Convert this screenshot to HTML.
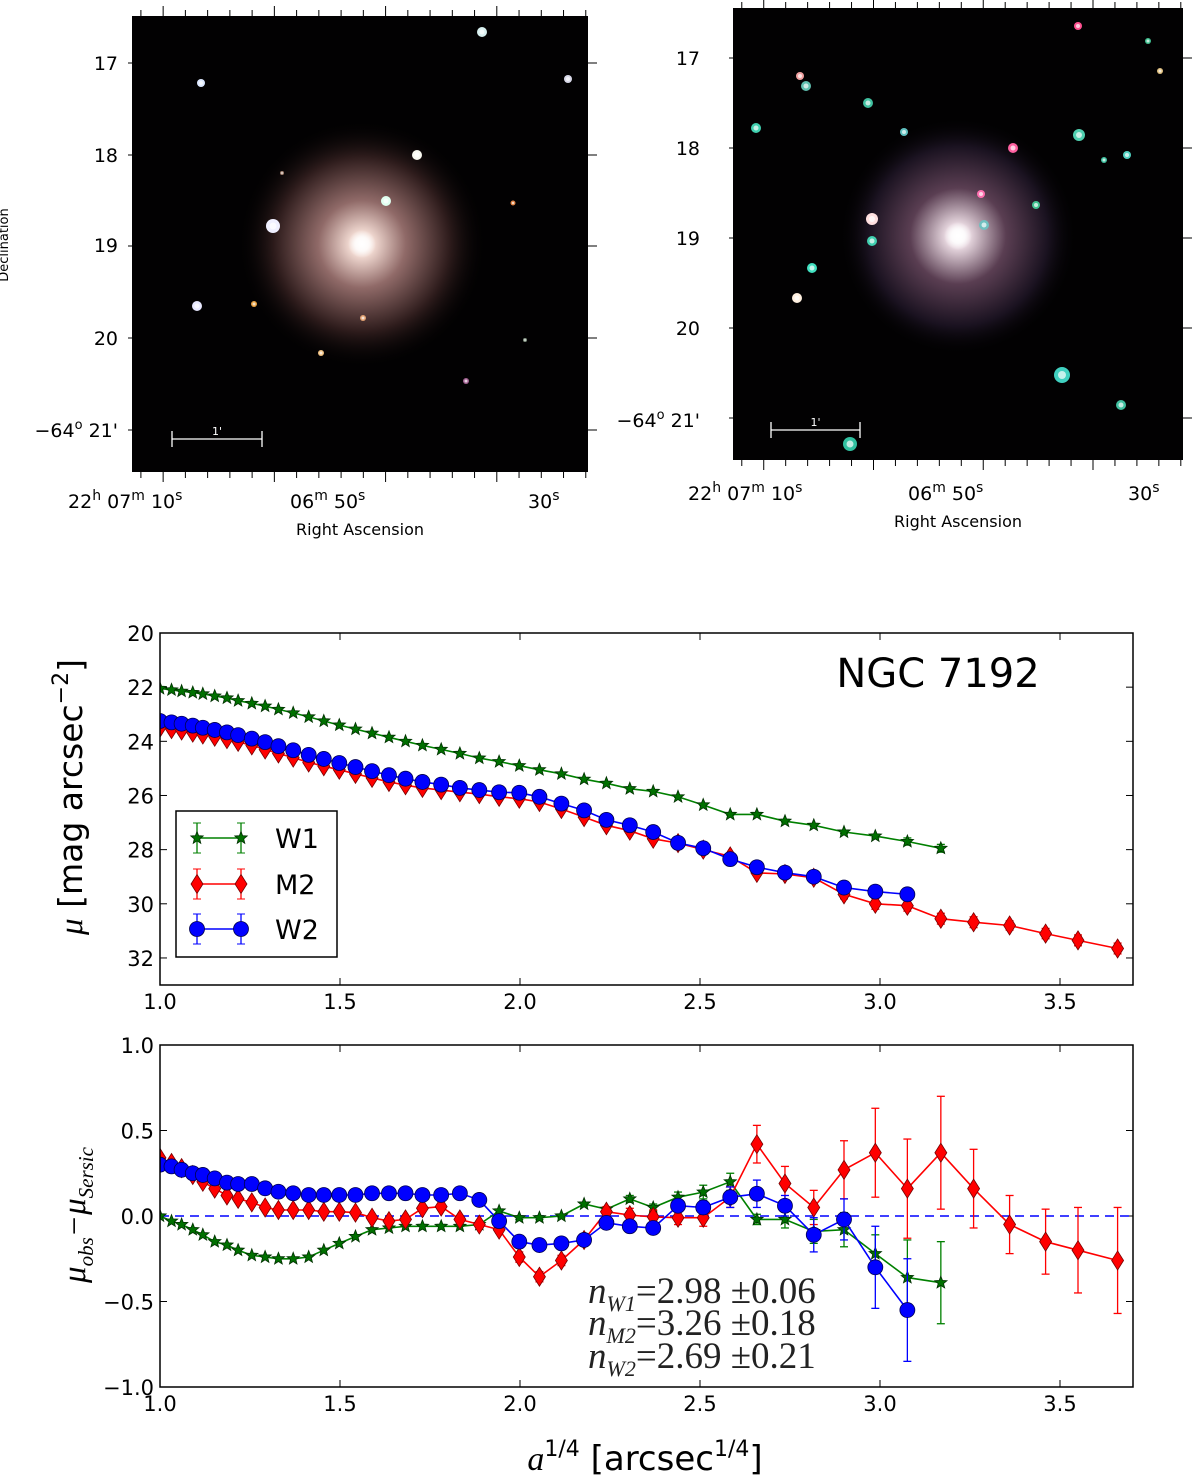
<!DOCTYPE html>
<html><head><meta charset="utf-8"><style>
body{margin:0;background:#fff;width:1200px;height:1483px;overflow:hidden}
svg{display:block}
text{font-family:"DejaVu Sans","Liberation Sans",sans-serif}
.serif{font-family:"Liberation Serif","DejaVu Serif",serif}
</style></head><body>
<svg id="fig" width="1200" height="1483" viewBox="0 0 1200 1483" xmlns="http://www.w3.org/2000/svg">
<defs>
<radialGradient id="galL"><stop offset="0" stop-color="#fff8f4"/><stop offset="0.1" stop-color="#f0d8d0"/><stop offset="0.35" stop-color="#906a68"/><stop offset="0.7" stop-color="#2e1c1c"/><stop offset="1" stop-color="#000" stop-opacity="0"/></radialGradient>
<radialGradient id="galR"><stop offset="0" stop-color="#fff"/><stop offset="0.1" stop-color="#e8d8e0"/><stop offset="0.4" stop-color="#5a3e52"/><stop offset="0.75" stop-color="#1a1220"/><stop offset="1" stop-color="#000" stop-opacity="0"/></radialGradient>
<radialGradient id="star"><stop offset="0" stop-color="#fff"/><stop offset="0.5" stop-color="#fff" stop-opacity="0.8"/><stop offset="1" stop-color="#fff" stop-opacity="0"/></radialGradient>
</defs>
<g id="imgs"></g>
<g id="plots"></g>
</svg>
<script>
// ---------- data ----------
const xGrid = [1.0,1.032,1.06,1.091,1.119,1.152,1.186,1.217,1.255,1.292,1.329,1.37,1.413,1.455,1.498,1.543,1.589,1.636,1.682,1.729,1.781,1.833,1.887,1.942,1.998,2.054,2.115,2.178,2.24,2.305,2.37,2.439,2.509,2.584,2.658,2.736,2.816,2.9,2.987,3.076,3.169,3.26,3.36,3.46,3.55,3.66];
const muW1 = [22.05,22.1,22.15,22.2,22.25,22.33,22.4,22.5,22.6,22.7,22.82,22.95,23.1,23.25,23.4,23.55,23.7,23.85,24.0,24.15,24.3,24.45,24.62,24.75,24.9,25.05,25.2,25.4,25.55,25.75,25.85,26.05,26.35,26.7,26.7,26.95,27.1,27.35,27.5,27.7,27.95];
const muM2 = [23.5,23.55,23.6,23.68,23.75,23.83,23.92,24.02,24.15,24.3,24.45,24.6,24.78,24.92,25.05,25.2,25.35,25.5,25.62,25.72,25.8,25.88,25.95,26.05,26.12,26.24,26.5,26.8,27.1,27.3,27.6,27.76,28.0,28.25,28.86,28.9,29.04,29.65,30.0,30.07,30.55,30.68,30.8,31.1,31.35,31.65];
const muW2 = [23.25,23.3,23.35,23.42,23.5,23.58,23.67,23.77,23.9,24.03,24.18,24.33,24.5,24.65,24.8,24.95,25.1,25.25,25.38,25.5,25.6,25.72,25.8,25.88,25.9,26.05,26.3,26.55,26.9,27.1,27.35,27.75,27.95,28.35,28.65,28.85,29.0,29.4,29.55,29.65];
const resW1 = [0,-0.03,-0.05,-0.08,-0.11,-0.15,-0.17,-0.2,-0.23,-0.24,-0.25,-0.25,-0.24,-0.2,-0.16,-0.12,-0.08,-0.07,-0.06,-0.06,-0.06,-0.06,-0.05,0.03,-0.01,-0.01,0.0,0.07,0.04,0.1,0.05,0.11,0.14,0.2,-0.02,-0.02,-0.09,-0.08,-0.22,-0.36,-0.39];
const resM2 = [0.34,0.31,0.28,0.24,0.2,0.16,0.12,0.1,0.08,0.05,0.035,0.035,0.035,0.025,0.025,0.02,-0.01,-0.03,-0.02,0.045,0.055,-0.02,-0.05,-0.08,-0.24,-0.355,-0.26,-0.14,0.025,0.005,-0.005,-0.01,-0.01,0.11,0.42,0.19,0.05,0.27,0.37,0.16,0.37,0.16,-0.05,-0.15,-0.2,-0.26];
const resW2 = [0.3,0.29,0.27,0.25,0.24,0.22,0.195,0.187,0.187,0.162,0.142,0.133,0.123,0.123,0.123,0.123,0.133,0.133,0.133,0.123,0.123,0.133,0.094,-0.03,-0.15,-0.17,-0.16,-0.14,-0.04,-0.06,-0.07,0.06,0.05,0.11,0.13,0.06,-0.11,-0.02,-0.3,-0.55];
const errW1 = [0,0,0,0,0,0,0,0,0,0,0,0,0,0,0,0,0,0,0,0,0,0,0,0.01,0.01,0.01,0.01,0.01,0.01,0.02,0.02,0.03,0.04,0.05,0.03,0.05,0.07,0.1,0.11,0.22,0.24];
const errM2 = [0.01,0.01,0.01,0.01,0.01,0.01,0.01,0.01,0.01,0.01,0.01,0.01,0.01,0.01,0.01,0.01,0.01,0.01,0.01,0.01,0.02,0.02,0.02,0.02,0.03,0.03,0.03,0.03,0.03,0.04,0.04,0.04,0.05,0.06,0.11,0.1,0.1,0.17,0.26,0.29,0.33,0.23,0.17,0.19,0.25,0.31];
const errW2 = [0,0,0,0,0,0,0,0,0,0,0,0,0,0,0,0,0,0,0,0,0,0,0,0.01,0.02,0.02,0.02,0.02,0.02,0.02,0.03,0.03,0.04,0.06,0.08,0.06,0.1,0.12,0.24,0.3];
const xTicks = [1.0,1.5,2.0,2.5,3.0,3.5];
const muTicks = [20,22,24,26,28,30,32];
const resTicks = [1.0,0.5,0.0,-0.5,-1.0];

const NS="http://www.w3.org/2000/svg";
function mk(tag,attrs,parent,txt){const e=document.createElementNS(NS,tag);for(const k in attrs)e.setAttribute(k,attrs[k]);if(txt!==undefined)e.textContent=txt;parent.appendChild(e);return e;}

// ---------- sky images ----------
const imgs=document.getElementById('imgs');
function skyImage(name,x0,y0,x1,y1,cx,cy,grad,gr,stars,ylabels,xl,yTickPos,raPos){
  const g=mk('g',{},imgs);
  
  
  mk('rect',{x:x0,y:y0,width:x1-x0,height:y1-y0,fill:'#020102'},g);
  mk('circle',{cx:cx,cy:cy,r:gr,fill:'url(#'+grad+')'},g);
  stars.forEach(s=>{mk('circle',{cx:s[0],cy:s[1],r:s[2],fill:s[3]},g);mk('circle',{cx:s[0],cy:s[1],r:s[2]*0.5,fill:'#fff','fill-opacity':0.7},g);});
  mk('circle',{cx:cx,cy:cy,r:14,fill:'url(#star)'},g);
  for(let i=0;i<=20;i++){const tx=x0+ (i+0.4)*(x1-x0)/20.5;const L=(i%5==1)?10:6;
    mk('line',{x1:tx,y1:y0,x2:tx,y2:y0-L,stroke:'#000','stroke-width':1},g);
    mk('line',{x1:tx,y1:y1,x2:tx,y2:y1+L,stroke:'#000','stroke-width':1},g);}
  yTickPos.forEach(ty=>{mk('line',{x1:x1,y1:ty,x2:x1+9,y2:ty,stroke:'#000'},g);mk('line',{x1:x0,y1:ty,x2:x0-4,y2:ty,stroke:'#000'},g);});
  ylabels.forEach(l=>{mk('text',{x:l[0],y:l[1],'font-size':19,'text-anchor':'end',fill:'#000'},g,l[2]);});
  const sb=xl;
  mk('line',{x1:sb[0],y1:sb[2],x2:sb[1],y2:sb[2],stroke:'#fff','stroke-width':1.3},g);
  mk('line',{x1:sb[0],y1:sb[2]-8,x2:sb[0],y2:sb[2]+8,stroke:'#fff','stroke-width':1.3},g);
  mk('line',{x1:sb[1],y1:sb[2]-8,x2:sb[1],y2:sb[2]+8,stroke:'#fff','stroke-width':1.3},g);
  mk('text',{x:(sb[0]+sb[1])/2,y:sb[2]-4,'font-size':11,'text-anchor':'middle',fill:'#fff'},g,"1'");
  const ra=mk('text',{x:raPos[0],y:raPos[1],'font-size':19,fill:'#000'},g);
  ra.innerHTML='22<tspan dy="-8" font-size="14">h</tspan><tspan dy="8"> 07</tspan><tspan dy="-8" font-size="14">m</tspan><tspan dy="8"> 10</tspan><tspan dy="-8" font-size="14">s</tspan>';
  const ra2=mk('text',{x:raPos[2],y:raPos[1],'font-size':19,fill:'#000'},g);
  ra2.innerHTML='06<tspan dy="-8" font-size="14">m</tspan><tspan dy="8"> 50</tspan><tspan dy="-8" font-size="14">s</tspan>';
  const ra3=mk('text',{x:raPos[3],y:raPos[1],'font-size':19,fill:'#000'},g);
  ra3.innerHTML='30<tspan dy="-8" font-size="14">s</tspan>';
  mk('text',{x:(x0+x1)/2,y:raPos[1]+27,'font-size':16,'text-anchor':'middle',fill:'#000'},g,'Right Ascension');
  return g;
}
skyImage('left-sky-image',132,16,588,472,362,244,'galL',125,
 [[482,32,5,'#d8f0f0'],[201,83,4,'#dde8ff'],[568,79,4,'#d8d8e8'],[417,155,5,'#f8f8f0'],[386,201,5,'#e0fff0'],[273,226,7,'#f0f0ff'],[197,306,5,'#e8e8ff'],[254,304,3,'#e8a040'],[321,353,3,'#f0c080'],[363,318,3,'#e0a070'],[513,203,2.5,'#e08040'],[282,173,2,'#a08070'],[466,381,3,'#a06090'],[525,340,2,'#809080']],
 [[118,70,'17'],[118,162,'18'],[118,252,'19'],[118,345,'20']],[172,262,439],[63,155,246,338,430],[68,508,290,528]);
mk('text',{x:8,y:245,'font-size':13,'text-anchor':'middle',transform:'rotate(-90 8 245)',fill:'#000'},imgs,'Declination');
const d1=mk('text',{x:118,y:437,'font-size':19,'text-anchor':'end',fill:'#000'},imgs);
d1.innerHTML='−64<tspan dy="-8" font-size="13">o</tspan><tspan dy="8"> 21\'</tspan>';
skyImage('right-sky-image',733,8,1183,460,958,236,'galR',120,
 [[1078,26,4,'#ff5090'],[800,76,4,'#f0a0a0'],[806,86,5,'#60c0b0'],[868,103,5,'#40c0a0'],[756,128,5,'#40d0b0'],[1013,148,5,'#ff60a0'],[1079,135,6,'#50d0b0'],[1127,155,4,'#50d0c0'],[981,194,4,'#ff70b0'],[872,219,6,'#ffe0e0'],[872,241,5,'#40d0b0'],[812,268,5,'#40e0c0'],[797,298,5,'#fff0e0'],[1062,375,8,'#40d0c0'],[850,444,7,'#30c0a0'],[1121,405,5,'#40c0a0'],[1160,71,3,'#e0c080'],[1148,41,3,'#40c090'],[984,225,5,'#70c0c0'],[904,132,4,'#60c0c0'],[1036,205,4,'#40c090'],[1104,160,3,'#40c0a0']],
 [[700,65,'17'],[700,155,'18'],[700,245,'19'],[700,335,'20']],[771,860,430],[58,148,238,328,418],[688,500,908,1128]);
const d2=mk('text',{x:700,y:427,'font-size':19,'text-anchor':'end',fill:'#000'},imgs);
d2.innerHTML='−64<tspan dy="-8" font-size="13">o</tspan><tspan dy="8"> 21\'</tspan>';

// ---------- plots ----------
const plots=document.getElementById('plots');
const PX0=160,PX1=1133;
const X=v=>PX0+(v-1.0)*360;
const T0=633,T1=985; const Ytop=v=>T0+(v-20)*27.08;
const B0=1045,B1=1387; const Ybot=v=>B0+(1.0-v)*171;
const COL={W1:'#008000',M2:'#ff0000',W2:'#0000ff'};

function marker(g,type,x,y,color){
  let e;
  if(type==='star'){const pts=[];for(let i=0;i<10;i++){const r=i%2?2.8:6.5;const a=-Math.PI/2+i*Math.PI/5;pts.push((x+r*Math.cos(a)).toFixed(1)+','+(y+r*Math.sin(a)).toFixed(1));}
    e=mk('polygon',{points:pts.join(' '),fill:'#007000',stroke:'#003000','stroke-width':0.8},g);}
  else if(type==='diamond'){e=mk('polygon',{points:`${x},${y-9.5} ${x+6},${y} ${x},${y+9.5} ${x-6},${y}`,fill:'#ff0000',stroke:'#700','stroke-width':0.8},g);}
  else {e=mk('circle',{cx:x,cy:y,r:7.5,fill:'#0000ff',stroke:'#000050','stroke-width':0.8},g);}
  return e;
}
function series(parent,name,vals,errs,Y,color,type){
  const g=mk('g',{},parent);
  
  
  const n=vals.length;
  const pts=[];
  for(let i=0;i<n;i++){pts.push(X(xGrid[i]).toFixed(1)+','+Y(vals[i]).toFixed(1));}
  for(let i=0;i<n;i++){const e=errs[i];if(e>0){const x=X(xGrid[i]);const ya=Y(vals[i]-e),yb=Y(vals[i]+e);
    mk('line',{x1:x,y1:ya,x2:x,y2:yb,stroke:color,'stroke-width':1.3},g);
    mk('line',{x1:x-4,y1:ya,x2:x+4,y2:ya,stroke:color,'stroke-width':1.3},g);
    mk('line',{x1:x-4,y1:yb,x2:x+4,y2:yb,stroke:color,'stroke-width':1.3},g);}}
  mk('polyline',{points:pts.join(' '),fill:'none',stroke:color,'stroke-width':1.6},g);
  for(let i=0;i<n;i++){const m=marker(g,type,X(xGrid[i]),Y(vals[i]),color);
    
    }
}
function axes(name,y0,y1,Y,ticks,fmt){
  const g=mk('g',{},plots);
  
  
  xTicks.forEach(t=>{const x=X(t);mk('line',{x1:x,y1:y1,x2:x,y2:y1-7,stroke:'#000'},g);mk('line',{x1:x,y1:y0,x2:x,y2:y0+7,stroke:'#000'},g);
    mk('text',{x:x,y:y1+24,'font-size':21,'text-anchor':'middle',fill:'#000'},g,t.toFixed(1));});
  ticks.forEach(t=>{const y=Y(t);mk('line',{x1:PX0,y1:y,x2:PX0+7,y2:y,stroke:'#000'},g);mk('line',{x1:PX1,y1:y,x2:PX1-7,y2:y,stroke:'#000'},g);
    mk('text',{x:PX0-6,y:y+8,'font-size':21,'text-anchor':'end',fill:'#000'},g,fmt(t));});
  return g;
}
const topClip=mk('clipPath',{id:'ct'},plots);mk('rect',{x:PX0,y:T0,width:PX1-PX0,height:T1-T0},topClip);
axes('profile-axes',T0,T1,Ytop,muTicks,t=>String(t));
const tg=mk('g',{'clip-path':'url(#ct)'},plots);
series(tg,'w1-profile',muW1,errW1.map(e=>e*0.6),Ytop,COL.W1,'star');
series(tg,'m2-profile',muM2,errM2.map(e=>Math.min(e,0.2)),Ytop,COL.M2,'diamond');
series(tg,'w2-profile',muW2,errW2.map(e=>Math.min(e,0.15)),Ytop,COL.W2,'circle');
mk('rect',{x:PX0,y:T0,width:PX1-PX0,height:T1-T0,fill:'none',stroke:'#000','stroke-width':1.5},plots);
const ngc=mk('text',{x:938,y:687,'font-size':40,'text-anchor':'middle',fill:'#000'},plots,'NGC 7192');


const lg=mk('g',{},plots);


mk('rect',{x:176,y:811,width:161,height:146,fill:'#fff',stroke:'#000','stroke-width':1.5},lg);
[['W1',COL.W1,'star',838],['M2',COL.M2,'diamond',884],['W2',COL.W2,'circle',929]].forEach(L=>{
  const eg=mk('g',{},lg);
  
  
  mk('line',{x1:197,y1:L[3],x2:241,y2:L[3],stroke:L[1],'stroke-width':1.6},eg);
  [197,241].forEach(x=>{mk('line',{x1:x,y1:L[3]-15,x2:x,y2:L[3]+15,stroke:L[1],'stroke-width':1.3},eg);
    mk('line',{x1:x-4,y1:L[3]-15,x2:x+4,y2:L[3]-15,stroke:L[1]},eg);mk('line',{x1:x-4,y1:L[3]+15,x2:x+4,y2:L[3]+15,stroke:L[1]},eg);
    marker(eg,L[2],x,L[3],L[1]);});
  mk('text',{x:275,y:L[3]+10,'font-size':27,fill:'#000'},eg,L[0]);
});
const yl1=mk('text',{x:82,y:797,'font-size':33,'text-anchor':'middle',transform:'rotate(-90 82 797)',fill:'#000'},plots);
yl1.innerHTML='<tspan class="serif" font-style="italic">μ</tspan> [mag arcsec<tspan dy="-14" font-size="22">−2</tspan><tspan dy="14">]</tspan>';


const botClip=mk('clipPath',{id:'cb'},plots);mk('rect',{x:PX0,y:B0,width:PX1-PX0,height:B1-B0},botClip);
axes('residual-axes',B0,B1,Ybot,resTicks,t=>(t<0?'−':'')+Math.abs(t).toFixed(1));
const bg=mk('g',{'clip-path':'url(#cb)'},plots);
const zl=mk('line',{x1:PX0,y1:Ybot(0),x2:PX1,y2:Ybot(0),stroke:'#0000ff','stroke-width':1.6,'stroke-dasharray':'9,6'},bg);


series(bg,'w1-residual',resW1,errW1,Ybot,COL.W1,'star');
series(bg,'m2-residual',resM2,errM2,Ybot,COL.M2,'diamond');
series(bg,'w2-residual',resW2,errW2,Ybot,COL.W2,'circle');
mk('rect',{x:PX0,y:B0,width:PX1-PX0,height:B1-B0,fill:'none',stroke:'#000','stroke-width':1.5},plots);
const ann=mk('g',{},plots);


[['W1','2.98 ±0.06',1303],['M2','3.26 ±0.18',1335],['W2','2.69 ±0.21',1368]].forEach(a=>{
  const t=mk('text',{x:588,y:a[2],'font-size':37,'class':'serif',fill:'#222'},ann);
  t.innerHTML='<tspan font-style="italic">n</tspan><tspan font-size="22" dy="8" font-style="italic">'+a[0]+'</tspan><tspan dy="-8">='+a[1]+'</tspan>';
});
const yl2=mk('text',{x:85,y:1215,'font-size':33,'text-anchor':'middle','class':'serif','font-style':'italic',transform:'rotate(-90 85 1215)',fill:'#000'},plots);
yl2.innerHTML='μ<tspan font-size="21" dy="8">obs</tspan><tspan dy="-8">−μ</tspan><tspan font-size="21" dy="8">Sersic</tspan>';


const xl=mk('text',{x:645,y:1470,'font-size':34,'text-anchor':'middle',fill:'#000'},plots);
xl.innerHTML='<tspan class="serif" font-style="italic">a</tspan><tspan font-size="22" dy="-14">1/4</tspan><tspan dy="14">  [arcsec</tspan><tspan font-size="22" dy="-14">1/4</tspan><tspan dy="14">]</tspan>';


</script>
</body></html>
